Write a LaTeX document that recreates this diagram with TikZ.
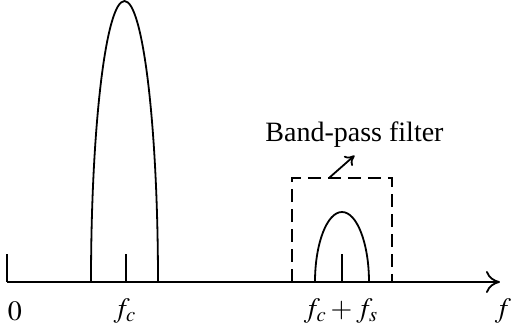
\documentclass[tikz,border=0pt]{standalone}
\usepackage{mathptmx}
\usepackage{fontspec}
\setmainfont{Liberation Serif}
\usetikzlibrary{arrows.meta}

\begin{document}
\begin{tikzpicture}[x=0.5pt,y=0.5pt,line width=0.9pt,
    lbl/.style={font=\fontsize{14}{16}\selectfont}]
    \useasboundingbox (0,0) rectangle (511,328);
    % axis and ticks
    \coordinate (o) at (7,46);
    \coordinate (fend) at (500,46);
    \draw[-{To[length=7pt,width=11pt]}] (o) -- (fend);
    \draw (o) -- ++(0,28);
    \draw (126,46) -- ++(0,28);
    \draw (342,46) -- ++(0,28);
    % spectra
    \draw (91,46) arc[start angle=180,end angle=0,x radius=33.5,y radius=281];
    \draw (315,46) arc[start angle=180,end angle=0,x radius=27,y radius=70];
    % filter
    \draw[dash pattern=on 6.5pt off 3.5pt] (292,46) -- (292,150) -- (392,150) -- (392,46);
    \coordinate (box) at (329,150);
    \node[lbl,anchor=base] (bpf) at (354.5,186) {Band-pass filter};
    \draw[-{To[length=4.5pt,width=6.5pt]}] (box) -- (bpf.south);
    % labels
    \node[lbl] (zero) at (15,17) {$0$};
    \node[lbl] (fc) at (125,17) {$f_c$};
    \node[lbl] (fcs) at (341,17) {$f_c+f_s$};
    \node[lbl] (f) at (503,17) {$f$};
\end{tikzpicture}
\end{document}
